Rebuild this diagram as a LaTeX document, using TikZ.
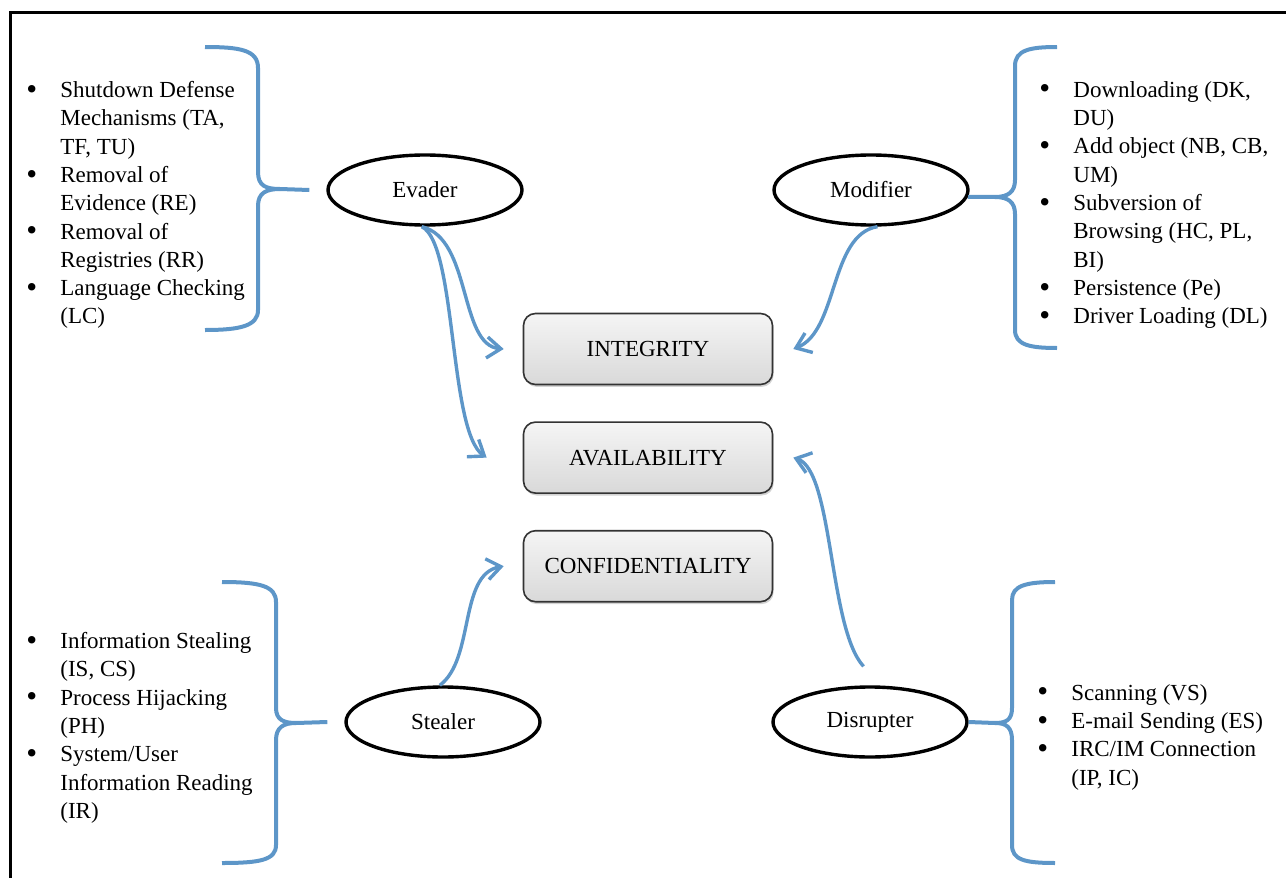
\documentclass[tikz,border=0pt]{standalone}
\usepackage{fontspec}
\setmainfont{Liberation Serif}
\definecolor{Brace}{RGB}{93,150,200}
\usetikzlibrary{arrows.meta,shapes.geometric,shadows,positioning}
\newcommand{\bul}{\makebox[17pt][l]{\raisebox{-0.15ex}{\scalebox{1.35}{\textbullet}}}}
\newcommand{\ind}{\hspace*{17pt}}

\begin{document}
\begin{tikzpicture}[x=0.5pt,y=-0.5pt,
  every node/.style={font=\fontsize{11.5}{14.15}\selectfont},
  role/.style={ellipse,draw,line width=1.7pt,minimum width=97pt,minimum height=35pt,inner sep=0pt},
  goal/.style={rounded corners=6pt,draw=black!80,line width=0.8pt,top color=gray!8,bottom color=gray!30,
    minimum width=124.5pt,minimum height=35.5pt,drop shadow={opacity=0.35,shadow xshift=0.6pt,shadow yshift=-1.2pt}},
  feat/.style={anchor=north west,align=left,inner sep=0pt},
  brace/.style={Brace,line width=2pt},
  link/.style={Brace,line width=1.7pt,-{Straight Barb[length=7pt,width=10.5pt]}}]
\useasboundingbox (0,0) rectangle (1286,878);
%frame
\draw[line width=1.5pt] (10,900) -- (10,12) -- (1300,12);
%roles
\node[role] (evader) at (425,190) {Evader};
\node[role] (modifier) at (871,190) {Modifier};
\node[role] (stealer) at (443,722) {Stealer};
\node[role] (disrupter) at (870,722) {Disrupter};
%goals
\node[goal] (integ) at (648,349) {INTEGRITY};
\node[goal,below=18pt of integ] (avail) {AVAILABILITY};
\node[goal,below=18pt of avail] (conf) {CONFIDENTIALITY};
%lists
\node[feat] (evlist) at (26,81) {\bul Shutdown Defense\\\ind Mechanisms (TA,\\\ind TF, TU)\\
  \bul Removal of\\\ind Evidence (RE)\\\bul Removal of\\\ind Registries (RR)\\
  \bul Language Checking\\\ind (LC)};
\node[feat] (molist) at (1039,81) {\bul Downloading (DK,\\\ind DU)\\\bul Add object (NB, CB,\\\ind UM)\\
  \bul Subversion of\\\ind Browsing (HC, PL,\\\ind BI)\\\bul Persistence (Pe)\\\bul Driver Loading (DL)};
\node[feat] (stlist) at (26,632) {\bul Information Stealing\\\ind (IS, CS)\\\bul Process Hijacking\\\ind (PH)\\
  \bul System/User\\\ind Information Reading\\\ind (IR)};
\node[feat] (dilist) at (1037,684) {\bul Scanning (VS)\\\bul E-mail Sending (ES)\\\bul IRC/IM Connection\\\ind (IP, IC)};
%braces
\draw[brace] (205,47) .. controls (240,47) and (258,50) .. (258,68) -- (258,172)
  .. controls (258,186) and (266,189) .. (280,189) -- ([xshift=-8.5pt]evader.west);
\draw[brace] (280,189) .. controls (266,189) and (258,193) .. (258,206) -- (258,310)
  .. controls (258,326) and (240,330) .. (205,330);
\draw[brace] (1057,47) .. controls (1030,47) and (1015,50) .. (1015,66) -- (1015,180)
  .. controls (1015,192) and (1008,197) .. (995,197) -- (modifier.-4);
\draw[brace] (995,197) .. controls (1008,197) and (1015,202) .. (1015,214) -- (1015,330)
  .. controls (1015,345) and (1030,348) .. (1057,348);
\draw[brace] (222,582) .. controls (260,582) and (276,586) .. (276,602) -- (276,708)
  .. controls (276,720) and (284,723) .. (296,723) -- ([xshift=-8.5pt]stealer.west);
\draw[brace] (296,723) .. controls (284,723) and (276,727) .. (276,740) -- (276,845)
  .. controls (276,860) and (260,863) .. (222,863);
\draw[brace] (1055,582) .. controls (1025,582) and (1012,586) .. (1012,600) -- (1012,708)
  .. controls (1012,720) and (1006,723) .. (995,723) -- (disrupter.east);
\draw[brace] (995,723) .. controls (1006,723) and (1012,727) .. (1012,740) -- (1012,845)
  .. controls (1012,860) and (1025,863) .. (1055,863);
%links
\draw[link] (evader.265) .. controls +(50,12) and +(-45,-4) .. ([xshift=-9.5pt]integ.west);
\draw[link] (evader.265) .. controls +(35,17) and +(-38,-26) .. ([xshift=-18pt]avail.west);
\draw[link] (modifier.-80) .. controls +(-48,8) and +(45,-18) .. ([xshift=10pt]integ.east);
\draw[link] ([yshift=9.5pt]disrupter.100) .. controls +(-35,-38) and +(40,13) .. ([xshift=10pt]avail.east);
\draw[link] (stealer.95) .. controls +(35,-26) and +(-45,8) .. ([xshift=-9.5pt]conf.west);
\end{tikzpicture}
\end{document}
